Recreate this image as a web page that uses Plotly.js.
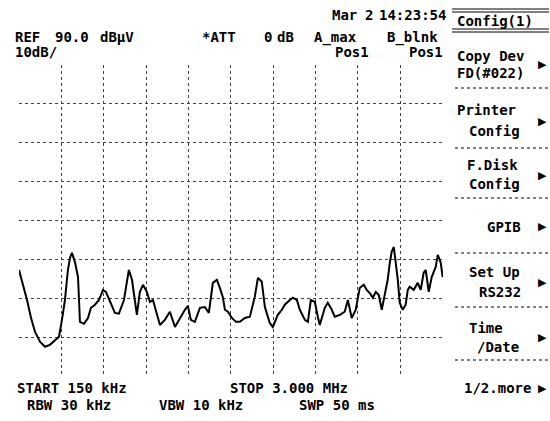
<!DOCTYPE html>
<html>
<head>
<meta charset="utf-8">
<script src="https://cdn.plot.ly/plotly-3.0.1.min.js"></script>
<style>html,body{margin:0;padding:0;background:#fff;}#chart{width:550px;height:421px;}</style>
</head>
<body>
<div id="chart"></div>
<script>
// Frequency (MHz) and level (dBµV)
const freqMHz = [0.150,0.177,0.204,0.231,0.258,0.291,0.325,0.358,0.392,0.419,0.439,0.459,0.479,0.493,0.506,0.526,0.547,0.553,0.560,0.587,0.614,0.634,0.661,0.688,0.715,0.735,0.762,0.795,0.822,0.856,0.876,0.889,0.910,0.930,0.943,0.963,0.984,1.010,1.031,1.051,1.071,1.098,1.131,1.165,1.199,1.232,1.266,1.286,1.306,1.333,1.367,1.400,1.427,1.454,1.481,1.501,1.521,1.535,1.555,1.582,1.609,1.636,1.669,1.703,1.736,1.757,1.783,1.804,1.837,1.857,1.891,1.918,1.938,1.972,1.992,2.019,2.039,2.073,2.093,2.113,2.140,2.160,2.173,2.207,2.227,2.254,2.274,2.308,2.341,2.362,2.375,2.388,2.415,2.429,2.442,2.469,2.489,2.509,2.530,2.550,2.570,2.590,2.610,2.630,2.644,2.657,2.671,2.684,2.698,2.711,2.731,2.751,2.765,2.778,2.805,2.832,2.852,2.872,2.886,2.906,2.926,2.953,2.967,2.987,3.000];
const levelDb = [37.4,33.6,29.7,25.1,21.5,19.0,17.7,18.2,19.5,20.3,24.6,29.7,37.4,40.5,41.8,39.5,35.6,29.7,24.1,23.6,25.1,27.7,28.5,29.7,32.3,31.8,29.2,26.4,26.2,29.7,34.4,37.4,34.9,29.7,25.9,31.8,33.6,31.8,29.2,29.7,26.7,23.3,24.6,26.7,22.8,25.1,27.2,28.2,24.6,24.1,27.7,27.9,26.4,34.1,34.9,32.8,30.5,27.2,26.7,25.1,24.1,24.1,25.1,25.4,30.5,35.4,34.4,27.9,23.8,22.8,25.9,27.2,28.5,29.7,30.3,29.7,27.2,24.6,24.1,29.7,29.2,25.4,23.3,27.7,29.0,27.2,25.4,25.9,26.7,29.7,27.2,25.1,27.2,29.7,32.8,33.6,32.3,31.5,30.3,31.8,31.0,27.2,31.0,34.9,39.2,42.1,43.3,39.5,34.9,29.0,27.2,28.5,32.3,33.1,32.3,34.1,32.3,36.7,37.4,31.8,35.6,38.2,41.3,39.2,35.6];

const startMHz = 0.15, stopMHz = 3.0, refDb = 90, dbPerDiv = 10;
const xGrid = [1,2,3,4,5,6,7,8,9,10].map(k => +(startMHz + k*(stopMHz-startMHz)/10).toFixed(4));
const yGrid = [10,20,30,40,50,60,70,80];

const headerTexts = [
  ["Mar", 330, 15], ["2", 363, 15], ["14:23:54", 377, 15],
  ["REF", 13, 37], ["90.0", 53, 37], ["dBµV", 98, 37],
  ["*ATT", 200, 37], ["0", 262, 37], ["dB", 275, 37],
  ["A_max", 312, 37], ["B_blnk", 385, 37],
  ["10dB/", 13, 52], ["Pos1", 333, 52], ["Pos1", 407, 52],
  ["START 150 kHz", 15, 388], ["STOP 3.000 MHz", 228, 388],
  ["RBW 30 kHz", 25, 405], ["VBW 10 kHz", 157, 405], ["SWP 50 ms", 297, 405]
];
const softkeys = [
  ["Config(1)", 455, 21],
  ["Copy Dev", 455, 56], ["FD(#022)", 455, 73],
  ["Printer", 455, 110], ["Config", 467, 131],
  ["F.Disk", 465, 165], ["Config", 467, 184],
  ["GPIB", 485, 227],
  ["Set Up", 467, 272], ["RS232", 477, 292],
  ["Time", 467, 328], ["/Date", 475, 347],
  ["1/2.more", 462, 388]
];
const arrowRows = [64, 121, 175, 227, 282, 337, 388];

// pixel -> paper helpers for text placement
const L = 19, R = 443, T = 65, B = 377;
const px = x => (x - L) / (R - L);
const py = y => (B - y) / (B - T);
const font = {family: "DejaVu Sans Mono", size: 14, color: "#000", weight: "bold"};

const annotations = [];
headerTexts.concat(softkeys).forEach(([t, x, y]) => annotations.push({
  text: t, xref: "paper", yref: "paper", x: px(x), y: py(y),
  xanchor: "left", yanchor: "middle", showarrow: false, font: font
}));
arrowRows.forEach(y => annotations.push({
  text: "▶", xref: "paper", yref: "paper", x: px(549), y: py(y),
  xanchor: "right", yanchor: "middle", showarrow: false,
  font: {family: "DejaVu Sans", size: 11, color: "#000"}
}));

const shapes = [];
const hline = (x0, x1, y, dash, w) => shapes.push({
  type: "line", xref: "paper", yref: "paper", x0: px(x0), x1: px(x1), y0: py(y), y1: py(y),
  line: {color: "#000", width: w || 1, dash: dash || "solid"}
});
hline(452, 549, 9); hline(452, 549, 12);
hline(452, 549, 29); hline(452, 549, 32);
[88, 148, 198, 253, 307, 360].forEach(y => hline(455, 548, y, "dot", 1));

Plotly.newPlot("chart", [{
  x: freqMHz, y: levelDb, type: "scatter", mode: "lines",
  line: {color: "#000", width: 2}, hoverinfo: "skip"
}], {
  width: 550, height: 421,
  margin: {l: L, r: 550 - R, t: T, b: 421 - B, pad: 0},
  paper_bgcolor: "#fff", plot_bgcolor: "#fff",
  showlegend: false,
  xaxis: {range: [startMHz, stopMHz + 0.002], tickmode: "array", tickvals: xGrid,
    showticklabels: false, ticks: "", showgrid: true, gridcolor: "#444", griddash: "dot",
    gridwidth: 1, zeroline: false, showline: false},
  yaxis: {range: [refDb - 8*dbPerDiv - 0.05, refDb], tickmode: "array", tickvals: yGrid,
    showticklabels: false, ticks: "", showgrid: true, gridcolor: "#444", griddash: "dot",
    gridwidth: 1, zeroline: false, showline: false},
  annotations: annotations, shapes: shapes
}, {displayModeBar: false, staticPlot: true});
</script>
</body>
</html>
